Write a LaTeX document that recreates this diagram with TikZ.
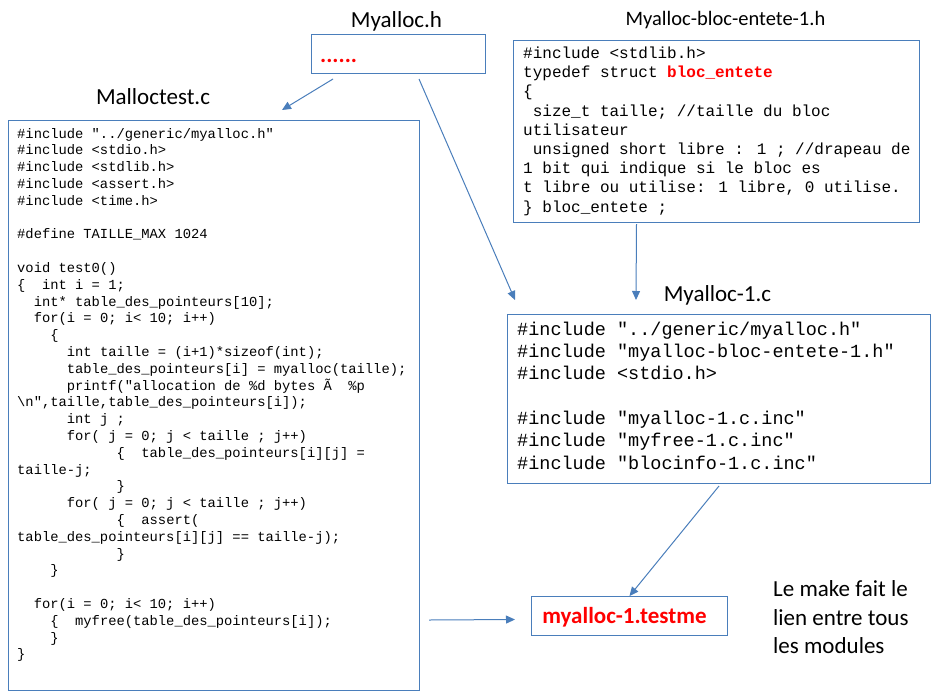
\documentclass[tikz,border=0pt]{standalone}
\usepackage{fontspec}
\setmainfont{Carlito}
\newfontfamily\calib{Carlito}
\newfontfamily\codef{Liberation Mono}
\usetikzlibrary{arrows.meta}
\definecolor{bl}{RGB}{74,126,187}
\definecolor{rd}{RGB}{255,0,0}
\newcommand\tstrut[1]{\rule{0pt}{#1}}
\begin{document}
\begin{tikzpicture}[x=1pt,y=-1pt,
  box/.style={draw=bl, line width=1pt, inner sep=0pt, anchor=north west},
  arr/.style={draw=bl, line width=1pt, -{Triangle[length=9pt,width=8pt]}},
  code/.style={anchor=north west, inner sep=0pt, align=left},
  title/.style={font=\calib\fontsize{23}{28}\selectfont, anchor=base, inner sep=0pt}]
\useasboundingbox (0,0) rectangle (940,697);

% boxes
\node[box, minimum width=174pt, minimum height=39pt] (hbox) at (311,34) {};
\node[box, minimum width=406pt, minimum height=182pt] (ebox) at (513,40) {};
\node[box, minimum width=411pt, minimum height=570pt] (tbox) at (8,120) {};
\node[box, minimum width=423pt, minimum height=169pt] (cbox) at (507,314) {};
\node[box, minimum width=196pt, minimum height=39pt] (mbox) at (531,596) {};

% titles
\node[title] (thead) at (396.5,27) {Myalloc.h};
\node[title] (ttest) at (153,104) {Malloctest.c};
\node[title, font=\calib\fontsize{20.5}{25}\selectfont] (tent) at (725.5,25) {Myalloc-bloc-entete-1.h};
\node[title] (tc) at (717.5,301.7) {Myalloc-1.c};

% dots
\node[anchor=base west, inner sep=0pt, text=rd, font=\calib\bfseries\fontsize{23}{28}\selectfont] (dots) at (320,62) {......};

% Malloctest code
\node[code, font=\codef\fontsize{13.8}{16.8}\selectfont] (tcode) at (17,125.8) {\tstrut{12pt}\#include "../generic/myalloc.h"\\
\#include <stdio.h>\\
\#include <stdlib.h>\\
\#include <assert.h>\\
\#include <time.h>\\
\mbox{}\\
\#define TAILLE\_MAX 1024\\
\mbox{}\\
void test0()\\
\{~~int i = 1;\\
~~int* table\_des\_pointeurs[10];\\
~~for(i = 0; i< 10; i++)\\
~~~~\{\\
~~~~~~int taille = (i+1)*sizeof(int);\\
~~~~~~table\_des\_pointeurs[i] = myalloc(taille);\\
~~~~~~printf("allocation de \%d bytes Ã~~\%p\\
\textbackslash n",taille,table\_des\_pointeurs[i]);\\
~~~~~~int j ;\\
~~~~~~for( j = 0; j < taille ; j++)\\
~~~~~~~~~~~~\{~~table\_des\_pointeurs[i][j] =\\
taille-j;\\
~~~~~~~~~~~~\}\\
~~~~~~for( j = 0; j < taille ; j++)\\
~~~~~~~~~~~~\{~~assert(\\
table\_des\_pointeurs[i][j] == taille-j);\\
~~~~~~~~~~~~\}\\
~~~~\}\\
\mbox{}\\
~~for(i = 0; i< 10; i++)\\
~~~~\{~~myfree(table\_des\_pointeurs[i]);\\
~~~~\}\\
\}};

% entete code
\node[code, font=\codef\fontsize{16}{19.2}\selectfont] (ecode) at (523,44.3) {\tstrut{14pt}\#include <stdlib.h>\\
typedef struct \textcolor{rd}{\bfseries bloc\_entete}\\
\{\\
~size\_t taille; //taille du bloc\\
utilisateur\\
~unsigned short libre : 1 ; //drapeau de\\
1 bit qui indique si le bloc es\\
t libre ou utilise: 1 libre, 0 utilise.\\
\} bloc\_entete ;};

% Myalloc-1.c code
\node[code, font=\codef\fontsize{18.5}{22.3}\selectfont] (ccode) at (517,319) {\tstrut{16pt}\#include "../generic/myalloc.h"\\
\#include "myalloc-bloc-entete-1.h"\\
\#include <stdio.h>\\
\mbox{}\\
\#include "myalloc-1.c.inc"\\
\#include "myfree-1.c.inc"\\
\#include "blocinfo-1.c.inc"};

% testme
\node[anchor=base, inner sep=0pt, text=rd, font=\calib\bfseries\fontsize{23}{28}\selectfont] (tm) at (624.5,623.3) {myalloc-1.testme};

% note
\node[code, font=\calib\fontsize{23}{28.3}\selectfont] (note) at (773,579.7) {\tstrut{17pt}Le make fait le\\lien entre tous\\les modules};

% arrows
\coordinate (a1e) at (282,110);
\draw[arr] ([shift={(22,5)}]hbox.south west) -- (a1e);
\draw[arr] ([shift={(108,5)}]hbox.south west) -- ([shift={(8,-14)}]cbox.north west);
\draw[arr] ([shift={(-80,1)}]ebox.south) -- ([shift={(129,-14)}]cbox.north west);
\draw[arr] ([shift={(0,2)}]cbox.south) -- (mbox.north);
\draw[arr] ([shift={(9,-71)}]tbox.south east) -- ([shift={(-16,3.5)}]mbox.west);
\end{tikzpicture}
\end{document}
